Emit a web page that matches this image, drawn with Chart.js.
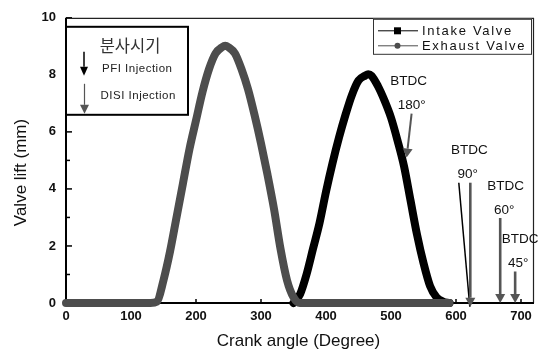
<!DOCTYPE html>
<html>
<head>
<meta charset="utf-8">
<script src="https://cdn.jsdelivr.net/npm/chart.js@4.4.0/dist/chart.umd.min.js"></script>
<style>
  html, body { margin: 0; padding: 0; background: #fff; }
  #wrap { width: 539px; height: 353px; position: relative; }
</style>
</head>
<body>
<div id="wrap"><canvas id="liftChart"></canvas></div>
<script>
// Valve lift profiles (crank angle in degrees, lift in mm)
const exhaustAngle = [0, 130, 140, 150, 160, 170, 180, 190, 200, 210, 220, 230, 240, 245, 250, 260, 270, 280, 290, 300, 310, 320, 330, 340, 350, 360, 590];
const exhaustLift  = [0, 0, 0.05, 0.8, 1.8, 3.0, 4.2, 5.4, 6.4, 7.4, 8.2, 8.75, 8.97, 9.02, 8.97, 8.75, 8.2, 7.5, 6.6, 5.6, 4.5, 3.3, 1.9, 0.8, 0.2, 0, 0];

const intakeAngle = [350, 360, 370, 380, 390, 400, 410, 420, 430, 440, 450, 460, 465, 470, 480, 490, 500, 510, 520, 530, 540, 550, 560, 570, 580, 590];
const intakeLift  = [0, 0.3, 1.0, 1.9, 2.8, 3.9, 4.9, 5.8, 6.6, 7.3, 7.8, 7.97, 8.02, 7.97, 7.6, 7.1, 6.5, 5.7, 4.8, 3.6, 2.4, 1.4, 0.6, 0.2, 0.05, 0];

// Injection timing markers (arrow tip angle / lift)
const btdcText  = ['180°', '90°', '60°', '45°'];
const btdcAngle = [524, 622, 668, 691];
const btdcLift  = [5.1, -0.13, 0, 0];

const xTitle = 'Crank angle (Degree)';
const yTitle = 'Valve lift (mm)';
const boxTitle = '분사시기';
const boxItems = ['PFI Injection', 'DISI Injection'];

const FONT = "'Liberation Sans', Arial, sans-serif";
const GRAY = '#4d4d4d';

function toPoints(xs, ys) {
    return xs.map((x, i) => ({ x: x, y: ys[i] }));
}

function drawArrow(ctx, x1, y1, x2, y2, color, lw, headW, headL) {
    const ang = Math.atan2(y2 - y1, x2 - x1);
    const bx = x2 - headL * Math.cos(ang);
    const by = y2 - headL * Math.sin(ang);
    ctx.save();
    ctx.strokeStyle = color;
    ctx.fillStyle = color;
    ctx.lineWidth = lw;
    ctx.beginPath();
    ctx.moveTo(x1, y1);
    ctx.lineTo(bx, by);
    ctx.stroke();
    ctx.beginPath();
    ctx.moveTo(x2, y2);
    ctx.lineTo(bx + headW / 2 * Math.sin(ang), by - headW / 2 * Math.cos(ang));
    ctx.lineTo(bx - headW / 2 * Math.sin(ang), by + headW / 2 * Math.cos(ang));
    ctx.closePath();
    ctx.fill();
    ctx.restore();
}

// Frame and inward tick marks, drawn under the curves
const framePlugin = {
    id: 'framePlugin',
    beforeDatasetsDraw(chart) {
        const ctx = chart.ctx;
        const a = chart.chartArea;
        const xs = chart.scales.x, ys = chart.scales.y;
        ctx.save();
        ctx.strokeStyle = '#000';
        ctx.lineWidth = 1.5;
        ys.ticks.forEach(t => {
            const py = ys.getPixelForValue(t.value);
            const len = t.value % 2 === 0 ? 6 : 4;
            ctx.beginPath();
            ctx.moveTo(a.left, py);
            ctx.lineTo(a.left + len, py);
            ctx.stroke();
        });
        xs.ticks.forEach(t => {
            const px = xs.getPixelForValue(t.value);
            ctx.beginPath();
            ctx.moveTo(px, a.bottom);
            ctx.lineTo(px, a.bottom - 4);
            ctx.stroke();
        });
        ctx.lineWidth = 1.2;
        ctx.strokeStyle = '#222';
        ctx.beginPath();
        ctx.moveTo(a.left, a.top + 0.5);
        ctx.lineTo(a.right - 0.5, a.top + 0.5);
        ctx.lineTo(a.right - 0.5, a.bottom);
        ctx.stroke();
        ctx.lineWidth = 2;
        ctx.strokeStyle = '#000';
        ctx.beginPath();
        ctx.moveTo(a.left, a.top);
        ctx.lineTo(a.left, a.bottom);
        ctx.lineTo(a.right, a.bottom);
        ctx.stroke();
        ctx.restore();
    }
};

// Legends, axis titles and BTDC arrows
const notesPlugin = {
    id: 'notesPlugin',
    afterDraw(chart) {
        const ctx = chart.ctx;
        const a = chart.chartArea;
        const xs = chart.scales.x, ys = chart.scales.y;
        ctx.save();

        // axis titles
        ctx.fillStyle = '#111';
        ctx.font = '17px ' + FONT;
        ctx.textAlign = 'center';
        ctx.textBaseline = 'middle';
        ctx.fillText(xTitle, (a.left + a.right) / 2 - 1.5, 341);
        ctx.save();
        ctx.translate(21.5, 172.5);
        ctx.rotate(-Math.PI / 2);
        ctx.fillText(yTitle, 0, 0);
        ctx.restore();

        // series legend (top right)
        const lw = 159, lh = 36;
        const lx = a.right - 2 - lw, ly = a.top + 1;
        ctx.fillStyle = '#fff';
        ctx.fillRect(lx, ly, lw, lh);
        ctx.strokeStyle = '#333';
        ctx.lineWidth = 1;
        ctx.strokeRect(lx + 0.5, ly + 0.5, lw - 1, lh - 1);
        chart.data.datasets.forEach((ds, i) => {
            const ry = ly + 12 + i * 15;
            ctx.strokeStyle = ds.borderColor;
            ctx.lineWidth = 1;
            ctx.beginPath();
            ctx.moveTo(lx + 5, ry);
            ctx.lineTo(lx + 45, ry);
            ctx.stroke();
            ctx.fillStyle = ds.borderColor;
            if (ds.pointStyle === 'rect') {
                ctx.fillRect(lx + 21, ry - 3.5, 7, 7);
            } else {
                ctx.beginPath();
                ctx.arc(lx + 24.5, ry, 3, 0, Math.PI * 2);
                ctx.fill();
            }
            ctx.fillStyle = '#111';
            ctx.font = '13px ' + FONT;
            ctx.textAlign = 'left';
            ctx.letterSpacing = '1.7px';
            ctx.fillText(ds.label, lx + 49, ry + 1);
            ctx.letterSpacing = '0px';
        });

        // injection timing key (top left)
        const bx = a.left, by = a.top + 9, bw = 122, bh = 88;
        ctx.fillStyle = '#fff';
        ctx.fillRect(bx, by, bw, bh);
        ctx.strokeStyle = '#000';
        ctx.lineWidth = 2;
        ctx.strokeRect(bx, by, bw, bh);
        ctx.fillStyle = '#333';
        ctx.textAlign = 'center';
        ctx.font = "16.5px 'Noto Sans CJK KR', sans-serif";
        ctx.fillText(boxTitle, bx + 64, by + 19);
        drawArrow(ctx, bx + 18, by + 25, bx + 18, by + 49, '#000', 1.5, 8, 9);
        drawArrow(ctx, bx + 18.5, by + 57, bx + 18.5, by + 87, '#555', 1.2, 9, 9);
        ctx.fillStyle = '#222';
        ctx.textAlign = 'left';
        ctx.font = '11.5px ' + FONT;
        ctx.letterSpacing = '0.5px';
        ctx.fillText(boxItems[0], bx + 36, by + 42);
        ctx.fillText(boxItems[1], bx + 34.5, by + 69.5);
        ctx.letterSpacing = '0px';

        // BTDC arrows: tail offset from tip, label offsets from tail
        const geo = [
            { dx: 5, len: 44, bx: -3, dxl: 0 },
            { dx: 0, len: 124, bx: -1, dxl: -2.5 },
            { dx: 0, len: 85, bx: 5.5, dxl: 4 },
            { dx: 0, len: 31.5, bx: 5, dxl: 3 }
        ];
        btdcText.forEach((txt, i) => {
            const tx = xs.getPixelForValue(btdcAngle[i]);
            const ty = ys.getPixelForValue(btdcLift[i]);
            const g = geo[i];
            const sx = tx + g.dx, sy = ty - g.len;
            if (i === 1) {
                ctx.strokeStyle = '#000';
                ctx.lineWidth = 1.5;
                ctx.beginPath();
                ctx.moveTo(sx - 11.5, sy);
                ctx.lineTo(tx - 0.5, ty);
                ctx.stroke();
            }
            drawArrow(ctx, sx, sy, tx, ty, '#555', i === 0 ? 2 : 2.6, 10, 9);
            ctx.fillStyle = '#111';
            ctx.textAlign = 'center';
            ctx.font = '13.5px ' + FONT;
            ctx.fillText('BTDC', sx + g.bx, sy - 32);
            ctx.fillText(txt, sx + g.dxl, sy - 8);
        });

        ctx.restore();
    }
};

const ctx = document.getElementById('liftChart').getContext('2d');
const liftChart = new Chart(ctx, {
    type: 'line',
    data: {
        datasets: [{
            label: 'Intake Valve',
            data: toPoints(intakeAngle, intakeLift),
            borderColor: '#000',
            pointStyle: 'rect',
            borderWidth: 8,
            pointRadius: 0,
            cubicInterpolationMode: 'monotone',
            borderJoinStyle: 'round',
            borderCapStyle: 'round',
            clip: 5,
            order: 2
        }, {
            label: 'Exhaust Valve',
            data: toPoints(exhaustAngle, exhaustLift),
            borderColor: GRAY,
            pointStyle: 'circle',
            borderWidth: 8,
            pointRadius: 0,
            cubicInterpolationMode: 'monotone',
            borderJoinStyle: 'round',
            borderCapStyle: 'round',
            clip: 5,
            order: 1
        }]
    },
    options: {
        responsive: true,
        maintainAspectRatio: false,
        animation: false,
        layout: { padding: { top: 16, right: 5, left: 0, bottom: 0 } },
        scales: {
            x: {
                type: 'linear',
                min: 0,
                max: 720,
                grid: { display: false, drawTicks: false },
                border: { display: false },
                ticks: {
                    stepSize: 100,
                    includeBounds: false,
                    padding: 6,
                    maxRotation: 0,
                    color: '#111',
                    font: { family: FONT, size: 13, weight: 'bold' }
                },
                afterFit: function(scale) { scale.height = 50; }
            },
            y: {
                min: 0,
                max: 10,
                grid: { display: false, drawTicks: false },
                border: { display: false },
                ticks: {
                    stepSize: 1,
                    autoSkip: false,
                    padding: 10,
                    color: '#111',
                    font: { family: FONT, size: 13, weight: 'bold' },
                    callback: function(value) {
                        return value % 2 === 0 ? value : '';
                    }
                },
                afterFit: function(scale) { scale.width = 66; }
            }
        },
        plugins: {
            legend: { display: false },
            tooltip: { enabled: false }
        }
    },
    plugins: [framePlugin, notesPlugin]
});
</script>
</body>
</html>
